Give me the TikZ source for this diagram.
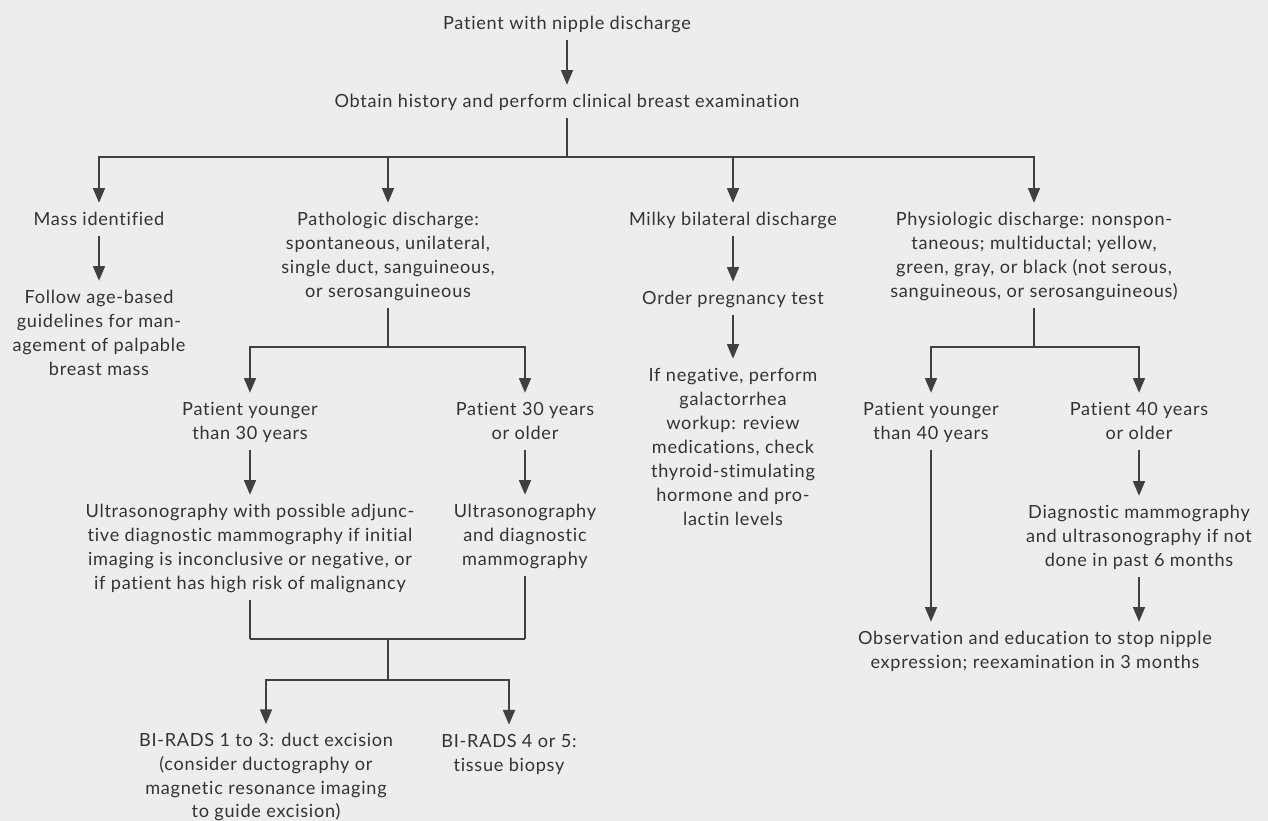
\documentclass[tikz,border=0pt]{standalone}
\usepackage{fontspec}
\setmainfont{Lato}[LetterSpace=4, Ligatures=NoCommon]
\usetikzlibrary{arrows.meta}
\definecolor{bg}{HTML}{EDEDEB}
\definecolor{txt}{HTML}{333333}
\definecolor{ln}{HTML}{404040}
\tikzset{
  lbl/.style={align=center, inner sep=0pt, text=txt, yshift=-2.25pt, font=\fontsize{13.6}{18}\selectfont},
  tight/.style={font=\fontsize{13.6}{17.7}\selectfont},
  conn/.style={draw=ln, line width=1.2pt},
  arr/.style={conn, -{Triangle[width=9pt,length=11pt]}, shorten >=4.5pt},
  fromnode/.style={shorten <=2pt},
}
\begin{document}
\begin{tikzpicture}[x=0.75pt,y=-0.75pt]
\fill[bg] (0,0) rectangle (1268,821);
\useasboundingbox (0,0) rectangle (1268,821);
% nodes
\node[lbl] (start) at (567,22) {\strut Patient with nipple discharge};
\node[lbl] (hist) at (567,100) {\strut Obtain history and perform clinical breast examination};
\node[lbl] (mass) at (99,218) {\strut Mass identified};
\node[lbl] (follow) at (99,332) {\strut Follow age-based\\\strut guidelines for man-\\\strut agement of palpable\\\strut breast mass};
\node[lbl] (path) at (388,254) {\strut Pathologic discharge:\\\strut spontaneous, unilateral,\\\strut single duct, sanguineous,\\\strut or serosanguineous};
\node[lbl] (milky) at (733,218) {\strut Milky bilateral discharge};
\node[lbl] (order) at (733,297) {\strut Order pregnancy test};
\node[lbl] (ifneg) at (733,446) {\strut If negative, perform\\\strut galactorrhea\\\strut workup: review\\\strut medications, check\\\strut thyroid-stimulating\\\strut hormone and pro-\\\strut lactin levels};
\node[lbl] (phys) at (1034,254) {\strut Physiologic discharge: nonspon-\\\strut taneous; multiductal; yellow,\\\strut green, gray, or black (not serous,\\\strut sanguineous, or serosanguineous)};
\node[lbl] (young30) at (250,420) {\strut Patient younger\\\strut than 30 years};
\node[lbl] (old30) at (525,420) {\strut Patient 30 years\\\strut or older};
\node[lbl] (us1) at (250,546) {\strut Ultrasonography with possible adjunc-\\\strut tive diagnostic mammography if initial\\\strut imaging is inconclusive or negative, or\\\strut if patient has high risk of malignancy};
\node[lbl] (us2) at (525,534) {\strut Ultrasonography\\\strut and diagnostic\\\strut mammography};
\node[lbl,tight] (bi1) at (266,774.5) {\strut BI-RADS 1 to 3: duct excision\\\strut (consider ductography or\\\strut magnetic resonance imaging\\\strut to guide excision)};
\node[lbl,tight] (bi2) at (509,751.5) {\strut BI-RADS 4 or 5:\\\strut tissue biopsy};
\node[lbl] (young40) at (931,420) {\strut Patient younger\\\strut than 40 years};
\node[lbl] (old40) at (1139,420) {\strut Patient 40 years\\\strut or older};
\node[lbl] (diag) at (1139,535) {\strut Diagnostic mammography\\\strut and ultrasonography if not\\\strut done in past 6 months};
\node[lbl] (obs) at (1035,649) {\strut Observation and education to stop nipple\\\strut expression; reexamination in 3 months};
% junctions
\coordinate (j1) at (567,157);
\coordinate (j2) at (388,347);
\coordinate (j5) at (1034,347);
\coordinate (c1) at (250,639);
\coordinate (c2) at (525,639);
\coordinate (j3) at (388,639);
\coordinate (j4) at (388,680);
% connectors
\draw[arr,fromnode] (start) -- (hist);
\draw[conn,fromnode] (hist) -- (j1);
\draw[arr] (j1) -| (mass);
\draw[arr] (j1) -| (path);
\draw[arr] (j1) -| (milky);
\draw[arr] (j1) -| (phys);
\draw[arr,fromnode] (mass) -- (follow);
\draw[arr,fromnode] (milky) -- (order);
\draw[arr,fromnode] (order) -- (ifneg);
\draw[conn,fromnode] (path) -- (j2);
\draw[arr] (j2) -| (young30);
\draw[arr] (j2) -| (old30);
\draw[arr,fromnode] (young30) -- (us1);
\draw[arr,fromnode] (old30) -- (us2);
\draw[conn,fromnode] (us1) -- (c1);
\draw[conn,fromnode] (us2) -- (c2);
\draw[conn] (c1) -- (c2);
\draw[conn] (j3) -- (j4);
\draw[arr] (j4) -| (bi1);
\draw[arr] (j4) -| (bi2);
\draw[conn,fromnode] (phys) -- (j5);
\draw[arr] (j5) -| (young40);
\draw[arr] (j5) -| (old40);
\draw[arr,fromnode] (old40) -- (diag);
\draw[arr,fromnode] (young40.south) -- (young40.south |- obs.north);
\draw[arr,fromnode] (diag) -- (diag |- obs.north);
\end{tikzpicture}
\end{document}
